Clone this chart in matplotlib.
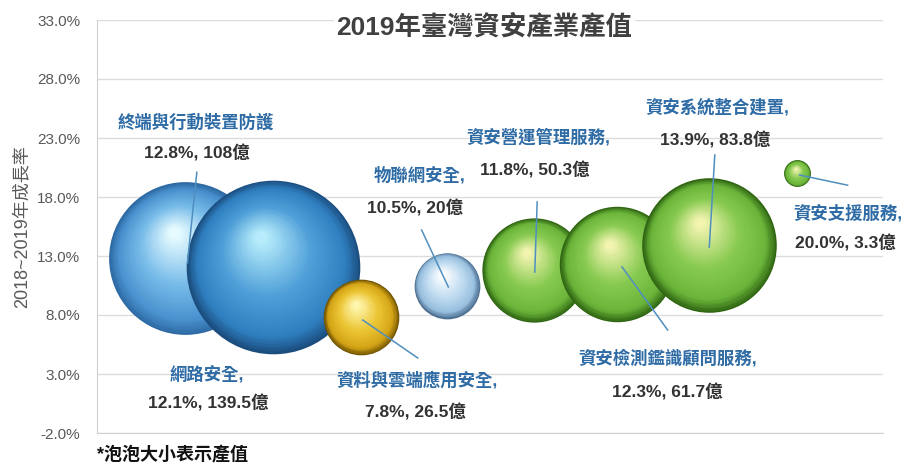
import numpy as np
import matplotlib
matplotlib.use("Agg")
import matplotlib.pyplot as plt
from matplotlib.colors import LinearSegmentedColormap
from matplotlib.transforms import ScaledTranslation

plt.rcParams['font.family'] = ['Liberation Sans', 'Noto Sans CJK TC', 'DejaVu Sans']

# ---------------- data ----------------
categories = ["終端與行動裝置防護", "網路安全", "資料與雲端應用安全", "物聯網安全",
              "資安營運管理服務", "資安檢測鑑識顧問服務", "資安系統整合建置", "資安支援服務"]
growth = [12.8, 12.1, 7.8, 10.5, 11.8, 12.3, 13.9, 20.0]          # %
output_value = [108, 139.5, 26.5, 20, 50.3, 61.7, 83.8, 3.3]        # 億
x_values = [1.12, 2.24, 3.36, 4.45, 5.56, 6.62, 7.79, 8.91]         # horizontal placement
y_ticks = [-2, 3, 8, 13, 18, 23, 28, 33]

# ---------------- styles ----------------
palettes = {
    "blue_light": ["#2d6aa3", "#4a92cf", "#78bce9", "#e6fbff"],
    "blue": ["#1b4d7e", "#2f7fc0", "#4f9fd8", "#b6ecfb"],
    "gold": ["#6f5200", "#d4a416", "#ecc636", "#fff7b0"],
    "ice": ["#4d6f90", "#97bfdf", "#c3def2", "#ffffff"],
    "green": ["#2f6512", "#6bb53a", "#88ca52", "#f2f4b0"],
}
bubble_style = ["blue_light", "blue", "gold", "ice", "green", "green", "green", "green"]

# label layout (data coords): title pos, value pos, leader line
label_layout = [
    dict(t=(1.26, 24.36), v=(1.27, 21.73), line=((1.27, 20.1), (1.15, 12.4))),
    dict(t=(1.40, 2.92), v=(1.41, 0.54), line=None),
    dict(t=(4.07, 2.5), v=(4.05, -0.2), line=((3.38, 7.58), (4.08, 4.36))),
    dict(t=(4.11, 19.86), v=(4.05, 17.07), line=((4.13, 15.2), (4.47, 10.37))),
    dict(t=(5.61, 23.08), v=(5.57, 20.29), line=((5.60, 17.58), (5.57, 11.64))),
    dict(t=(7.26, 4.36), v=(7.25, 1.47), line=((6.68, 12.07), (7.26, 6.73))),
    dict(t=(7.89, 25.63), v=(7.86, 22.83), line=((7.86, 21.56), (7.79, 13.76))),
    dict(t=(9.55, 16.64), v=(9.52, 14.1), line=((8.94, 19.86), (9.55, 19.0))),
]
title_comma = [False, True, True, True, True, True, True, True]

fig = plt.figure(figsize=(9.08, 4.65), dpi=100)
ax = fig.add_axes([97/908, 1-433/465, (883-97)/908, (433-20)/465])
ax.set_xlim(0, 10)
ax.set_ylim(-2, 33)
ax.set_yticks(y_ticks)
ax.set_yticklabels([f"{t:.1f}%" for t in y_ticks], fontsize=11, color="#595959")
ax.set_xticks([])
ax.tick_params(axis='y', length=0, pad=12)
ax.grid(axis='y', color="#dcdcdc", lw=1.0)
ax.set_axisbelow(True)
for s in ["top", "right"]:
    ax.spines[s].set_visible(False)
for s in ["left", "bottom"]:
    ax.spines[s].set_color("#d0d0d0")
ax.set_ylabel("2018~2019年成長率", fontsize=13, color="#595959", labelpad=5)

# bubbles with sphere shading
K = 112.0  # points^2 per 億
N = 45
z = 2
for xv, yv, val, st in zip(x_values, growth, output_value, bubble_style):
    cmap = LinearSegmentedColormap.from_list(st, list(zip([0, 0.18, 0.55, 1.0], palettes[st])))
    s_full = K * val
    d_full = np.sqrt(s_full)  # diameter in points
    for i in range(N):
        t = i / (N - 1)
        f = 1 - 0.93 * t
        off = (-0.07 * d_full * t, 0.17 * d_full * t)
        tr = ax.transData + ScaledTranslation(off[0] / 72, off[1] / 72, fig.dpi_scale_trans)
        ax.scatter([xv], [yv], s=(d_full * f) ** 2, color=cmap(t ** 0.9), lw=0,
                   transform=tr, zorder=z, clip_on=False)
    z += 1

# labels
blue_txt = "#2f6ca5"
dark_txt = "#333333"
for i, (cat, g, v, lay) in enumerate(zip(categories, growth, output_value, label_layout)):
    ttl = cat + ("," if title_comma[i] else "")
    ax.text(*lay["t"], ttl, ha="center", va="center", fontsize=12.5, fontweight="bold",
            color=blue_txt, zorder=50)
    vstr = f"{g:.1f}%, {v:g}億"
    ax.text(*lay["v"], vstr, ha="center", va="center", fontsize=12.5, fontweight="bold",
            color=dark_txt, zorder=50)
    if lay["line"] is not None:
        (x0, y0), (x1, y1) = lay["line"]
        ax.plot([x0, x1], [y0, y1], color="#4f8fbf", lw=1.1, zorder=60)

fig.text(0.5335, 1-27/465, "2019年臺灣資安產業產值", ha="center", va="center", fontsize=19,
         fontweight="bold", color="#404040",
         bbox=dict(facecolor="white", edgecolor="none", pad=2), zorder=100)
fig.text(97/908, 1-455/465, "*泡泡大小表示產值", ha="left", va="center", fontsize=13,
         fontweight="bold", color="#111111")

fig.savefig("out.png", dpi=100)
